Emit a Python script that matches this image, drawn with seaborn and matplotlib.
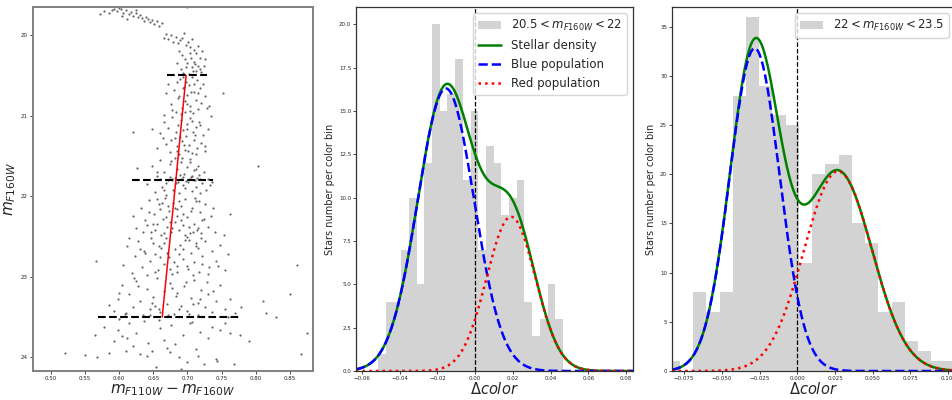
import numpy as np
import matplotlib
matplotlib.use("Agg")
import matplotlib.pyplot as plt
import seaborn as sns

# ---------------- CMD (left panel) ----------------
cmd_color = [
    # subgiant turn-off, 19.65-20.0
    0.572, 0.578, 0.585, 0.590, 0.593, 0.597, 0.600, 0.603, 0.606, 0.610,
    0.614, 0.617, 0.620, 0.624, 0.627, 0.630, 0.633, 0.636, 0.639, 0.642,
    0.645, 0.648, 0.651, 0.655, 0.658, 0.662, 0.604, 0.612, 0.625, 0.700,
    # 20.0-20.5
    0.665, 0.668, 0.672, 0.676, 0.679, 0.683, 0.686, 0.689, 0.692, 0.695,
    0.698, 0.701, 0.704, 0.707, 0.710, 0.713, 0.716, 0.719, 0.722, 0.726,
    0.688, 0.692, 0.696, 0.700, 0.703, 0.706, 0.709, 0.712, 0.715, 0.718,
    0.684, 0.690, 0.694, 0.698, 0.702, 0.705, 0.708, 0.711, 0.720, 0.724,
    # 20.5-21.0
    0.668, 0.672, 0.676, 0.680, 0.683, 0.686, 0.689, 0.692, 0.694, 0.696,
    0.698, 0.700, 0.702, 0.704, 0.706, 0.708, 0.710, 0.712, 0.714, 0.716,
    0.718, 0.720, 0.723, 0.726, 0.729, 0.732, 0.690, 0.695, 0.700, 0.705,
    0.678, 0.684, 0.688, 0.693, 0.697, 0.703, 0.709, 0.715, 0.752, 0.665,
    # 21.0-21.5
    0.655, 0.660, 0.665, 0.669, 0.672, 0.675, 0.678, 0.681, 0.684, 0.686,
    0.688, 0.690, 0.692, 0.694, 0.696, 0.698, 0.700, 0.702, 0.704, 0.706,
    0.708, 0.710, 0.712, 0.714, 0.717, 0.720, 0.723, 0.726, 0.730, 0.734,
    0.676, 0.683, 0.689, 0.695, 0.701, 0.707, 0.713, 0.719, 0.620, 0.648,
    0.664, 0.685, 0.699, 0.711, 0.725,
    # 21.5-22.0
    0.640, 0.648, 0.652, 0.656, 0.660, 0.663, 0.666, 0.669, 0.672, 0.675,
    0.677, 0.679, 0.681, 0.683, 0.685, 0.687, 0.689, 0.691, 0.693, 0.695,
    0.697, 0.699, 0.701, 0.703, 0.705, 0.707, 0.709, 0.711, 0.713, 0.715,
    0.717, 0.719, 0.721, 0.724, 0.727, 0.730, 0.733, 0.736, 0.660, 0.668,
    0.674, 0.678, 0.682, 0.686, 0.690, 0.694, 0.698, 0.702, 0.706, 0.710,
    0.714, 0.718, 0.655, 0.665, 0.676, 0.692, 0.704, 0.712, 0.626, 0.803,
    # 22.0-22.5
    0.625, 0.632, 0.638, 0.643, 0.647, 0.651, 0.655, 0.658, 0.661, 0.664,
    0.667, 0.670, 0.673, 0.676, 0.679, 0.682, 0.685, 0.688, 0.691, 0.694,
    0.697, 0.700, 0.703, 0.706, 0.709, 0.712, 0.715, 0.718, 0.722, 0.726,
    0.730, 0.735, 0.740, 0.650, 0.660, 0.669, 0.678, 0.687, 0.696, 0.705,
    0.714, 0.724, 0.644, 0.656, 0.666, 0.675, 0.684, 0.693, 0.702, 0.711,
    0.720, 0.620, 0.653, 0.672, 0.690, 0.708, 0.738, 0.762, 0.754, 0.635,
    0.641, 0.663, 0.681, 0.699, 0.717,
    # 22.5-23.0
    0.605, 0.612, 0.618, 0.623, 0.628, 0.633, 0.637, 0.641, 0.645, 0.649,
    0.653, 0.657, 0.661, 0.665, 0.669, 0.673, 0.677, 0.681, 0.685, 0.689,
    0.693, 0.697, 0.701, 0.705, 0.709, 0.713, 0.717, 0.721, 0.726, 0.731,
    0.736, 0.742, 0.748, 0.755, 0.760, 0.638, 0.652, 0.666, 0.680, 0.694,
    0.708, 0.722, 0.646, 0.660, 0.674, 0.688, 0.702, 0.716, 0.730, 0.566,
    0.630, 0.658, 0.684, 0.712, 0.745, 0.615, 0.670, 0.700, 0.720, 0.860,
    # 23.0-23.5
    0.585, 0.592, 0.598, 0.604, 0.610, 0.615, 0.620, 0.625, 0.630, 0.635,
    0.640, 0.645, 0.650, 0.655, 0.660, 0.665, 0.670, 0.675, 0.680, 0.685,
    0.690, 0.695, 0.700, 0.705, 0.710, 0.715, 0.720, 0.725, 0.730, 0.736,
    0.742, 0.748, 0.755, 0.762, 0.770, 0.778, 0.622, 0.648, 0.672, 0.698,
    0.718, 0.738, 0.608, 0.658, 0.683, 0.708, 0.850, 0.810, 0.815, 0.830,
    0.600, 0.628, 0.652, 0.678, 0.702, 0.728, 0.760, 0.645, 0.688, 0.715,
    # 23.5-24.2
    0.520, 0.550, 0.567, 0.578, 0.585, 0.592, 0.598, 0.604, 0.610, 0.615,
    0.620, 0.625, 0.630, 0.636, 0.642, 0.648, 0.654, 0.660, 0.665, 0.670,
    0.676, 0.682, 0.688, 0.694, 0.700, 0.706, 0.712, 0.718, 0.724, 0.730,
    0.736, 0.742, 0.748, 0.755, 0.762, 0.768, 0.777, 0.790, 0.867, 0.875,
    0.600, 0.612, 0.640, 0.658, 0.675, 0.690, 0.704, 0.716, 0.744, 0.564,
]
cmd_mag = [
    # subgiant turn-off, 19.65-20.0
    19.74, 19.70, 19.72, 19.69, 19.67, 19.70, 19.66, 19.68, 19.72, 19.69,
    19.74, 19.71, 19.76, 19.73, 19.78, 19.75, 19.79, 19.82, 19.77, 19.80,
    19.84, 19.81, 19.86, 19.83, 19.88, 19.85, 19.76, 19.80, 19.69, 19.65,
    # 20.0-20.5
    20.03, 19.98, 20.05, 20.00, 20.08, 20.02, 20.10, 20.06, 20.04, 19.97,
    20.12, 20.08, 20.15, 20.05, 20.18, 20.22, 20.14, 20.28, 20.20, 20.30,
    20.20, 20.25, 20.30, 20.35, 20.22, 20.40, 20.33, 20.45, 20.38, 20.42,
    20.35, 20.42, 20.47, 20.40, 20.48, 20.28, 20.44, 20.36, 20.46, 20.38,
    # 20.5-21.0
    20.72, 20.60, 20.85, 20.68, 20.95, 20.78, 20.55, 20.90, 20.65, 20.82,
    20.58, 20.74, 20.62, 20.88, 20.52, 20.97, 20.70, 20.80, 20.56, 20.92,
    20.66, 20.84, 20.60, 20.75, 20.90, 20.88, 20.98, 20.64, 20.86, 20.70,
    20.93, 20.58, 20.76, 20.52, 20.96, 20.94, 20.60, 20.72, 20.72, 20.99,
    # 21.0-21.5
    21.40, 21.22, 21.08, 21.35, 21.15, 21.45, 21.02, 21.28, 21.38, 21.12,
    21.48, 21.05, 21.32, 21.18, 21.42, 21.25, 21.10, 21.36, 21.03, 21.46,
    21.20, 21.30, 21.14, 21.40, 21.08, 21.34, 21.24, 21.44, 21.16, 21.00,
    21.30, 21.20, 21.26, 21.36, 21.44, 21.06, 21.48, 21.12, 21.20, 21.16,
    21.28, 21.44, 21.16, 21.24, 21.38,
    # 21.5-22.0
    21.85, 21.62, 21.95, 21.75, 21.55, 21.88, 21.70, 21.98, 21.80, 21.60,
    21.78, 21.92, 21.52, 21.84, 21.66, 21.96, 21.74, 21.58, 21.86, 21.72,
    21.90, 21.64, 21.82, 21.54, 21.76, 21.94, 21.68, 21.80, 21.88, 21.62,
    21.74, 21.96, 21.84, 21.70, 21.92, 21.78, 21.86, 21.82, 21.78, 21.83,
    21.76, 21.80, 21.77, 21.82, 21.79, 21.76, 21.81, 21.78, 21.75, 21.80,
    21.77, 21.79, 21.70, 21.92, 21.56, 21.52, 21.58, 21.66, 21.65, 21.63,
    # 22.0-22.5
    22.40, 22.15, 22.30, 22.05, 22.45, 22.22, 22.35, 22.10, 22.48, 22.28,
    22.02, 22.38, 22.18, 22.44, 22.08, 22.32, 22.24, 22.42, 22.12, 22.36,
    22.04, 22.26, 22.46, 22.14, 22.34, 22.06, 22.40, 22.20, 22.30, 22.10,
    22.38, 22.24, 22.45, 22.34, 22.16, 22.26, 22.40, 22.06, 22.48, 22.18,
    22.42, 22.28, 22.20, 22.04, 22.46, 22.32, 22.16, 22.22, 22.38, 22.02,
    22.46, 22.25, 22.42, 22.12, 22.30, 22.44, 22.14, 22.22, 22.48, 22.44,
    22.36, 22.08, 22.14, 22.50, 22.06,
    # 22.5-23.0
    22.85, 22.62, 22.95, 22.74, 22.55, 22.88, 22.68, 22.98, 22.80, 22.58,
    22.72, 22.92, 22.64, 22.84, 22.52, 22.76, 22.96, 22.66, 22.86, 22.60,
    22.78, 22.54, 22.90, 22.70, 22.82, 22.62, 22.94, 22.74, 22.56, 22.88,
    22.68, 22.80, 22.60, 22.92, 22.72, 22.70, 22.94, 22.58, 22.82, 22.66,
    22.98, 22.84, 22.52, 22.76, 22.90, 22.72, 22.54, 22.64, 22.96, 22.80,
    22.66, 22.62, 22.94, 22.58, 22.86, 22.52, 22.70, 22.86, 22.52, 22.85,
    # 23.0-23.5
    23.35, 23.42, 23.28, 23.10, 23.45, 23.22, 23.38, 23.05, 23.30, 23.48,
    23.15, 23.40, 23.25, 23.02, 23.44, 23.18, 23.34, 23.08, 23.46, 23.20,
    23.36, 23.12, 23.42, 23.26, 23.04, 23.48, 23.16, 23.38, 23.22, 23.44,
    23.30, 23.10, 23.40, 23.28, 23.45, 23.38, 23.02, 23.32, 23.48, 23.06,
    23.28, 23.18, 23.46, 23.40, 23.24, 23.34, 23.22, 23.30, 23.45, 23.50,
    23.20, 23.12, 23.36, 23.14, 23.46, 23.06, 23.50, 23.48, 23.40, 23.32,
    # 23.5-24.2
    23.95, 23.97, 24.00, 23.62, 23.95, 23.80, 23.66, 23.74, 23.92, 23.58,
    23.86, 23.70, 23.96, 23.55, 23.82, 23.92, 24.12, 23.64, 23.78, 23.88,
    23.60, 23.84, 24.00, 23.72, 24.06, 23.56, 23.90, 23.68, 24.08, 23.76,
    23.62, 24.02, 23.66, 23.58, 23.70, 24.08, 23.72, 23.80, 23.96, 23.70,
    23.52, 23.76, 23.98, 23.54, 23.94, 24.14, 23.58, 23.98, 24.04, 23.72,
]

# fiducial line and magnitude cuts
ridge_mag = [20.5, 21.8, 23.5]
ridge_color = [0.698, 0.683, 0.663]
cut_mag = [20.5, 21.8, 23.5]
cut_left = [0.670, 0.619, 0.569]
cut_right = [0.728, 0.738, 0.775]

# ---------------- histogram panels ----------------
hist_a_start, hist_a_width = -0.0514, 0.00408
hist_a_counts = [1, 4, 4, 7, 10, 5, 12, 20, 15, 16, 18, 11,
                 15, 7, 13, 12, 9, 10, 11, 4, 2, 3, 5, 3]
hist_a_label = r"$20.5 < m_{F160W} < 22$"
fit_a_blue = (16.3, -0.0155, 0.0149)   # amplitude, mean, sigma
fit_a_red = (8.9, 0.0190, 0.0129)

hist_b_start, hist_b_width = -0.0866, 0.00877
hist_b_counts = [1, 0, 8, 6, 8, 28, 36, 29, 26, 25, 11,
                 20, 21, 22, 15, 13, 6, 7, 3, 2, 1, 1]
hist_b_label = r"$22 < m_{F160W} < 23.5$"
fit_b_blue = (32.8, -0.0282, 0.0165)
fit_b_red = (20.3, 0.0270, 0.0225)


def gauss(x, p):
    a, mu, sig = p
    return a * np.exp(-(x - mu) ** 2 / (2 * sig ** 2))


sns.set_style("ticks")
plt.rcParams["font.family"] = ["DejaVu Sans"]

fig = plt.figure(figsize=(9.52, 4.0), dpi=100)
ax1 = fig.add_axes([33 / 952, 1 - 371 / 400, 280 / 952, 364 / 400])
ax2 = fig.add_axes([356 / 952, 1 - 371 / 400, 277 / 952, 364 / 400])
ax3 = fig.add_axes([672 / 952, 1 - 371 / 400, 283 / 952, 364 / 400])

# left: CMD
sns.scatterplot(x=cmd_color, y=cmd_mag, s=2.5, color="0.4", linewidth=0, ax=ax1)
for m, lo, hi in zip(cut_mag, cut_left, cut_right):
    ax1.plot([lo, hi], [m, m], color="black", ls="--", lw=1.5)
sns.lineplot(x=ridge_color, y=ridge_mag, color="red", lw=1.1, sort=False, ax=ax1)
ax1.set_xlim(0.4736, 0.884)
ax1.set_ylim(24.17, 19.65)
ax1.set_xticks(np.arange(0.50, 0.851, 0.05))
ax1.set_yticks([20, 21, 22, 23, 24])
ax1.set_xlabel(r"$m_{F110W} - m_{F160W}$", fontsize=11, labelpad=1)
ax1.set_ylabel(r"$m_{F160W}$", fontsize=11, labelpad=2)
for sp in ax1.spines.values():
    sp.set_color("#808080")
    sp.set_linewidth(1.4)


def hist_panel(ax, start, width, counts, label, pblue, pred, xlim, ylim):
    edges = [start + width * i for i in range(len(counts) + 1)]
    centers = [e + width / 2 for e in edges[:-1]]
    sns.histplot(x=centers, weights=counts, bins=edges, color="lightgrey",
                 alpha=1.0, linewidth=0, label=label, ax=ax)
    ax.axvline(0, color="black", ls="--", lw=0.9)
    xs = np.linspace(xlim[0], xlim[1], 400)
    g1 = gauss(xs, pblue)
    g2 = gauss(xs, pred)
    sns.lineplot(x=xs, y=g1 + g2, color="green", lw=1.8, label="Stellar density", ax=ax)
    sns.lineplot(x=xs, y=g1, color="blue", lw=1.8, ls="--", label="Blue population", ax=ax)
    sns.lineplot(x=xs, y=g2, color="red", lw=1.8, ls=":", label="Red population", ax=ax)
    ax.set_xlim(*xlim)
    ax.set_ylim(*ylim)
    ax.set_xlabel(r"$\Delta color$", fontsize=10.5, labelpad=0)
    ax.set_ylabel("Stars number per color bin", fontsize=7, labelpad=3)
    for sp in ax.spines.values():
        sp.set_color("#333333")
        sp.set_linewidth(0.9)


hist_panel(ax2, hist_a_start, hist_a_width, hist_a_counts, hist_a_label,
           fit_a_blue, fit_a_red, (-0.0632, 0.0837), (0, 21))
ax2.set_xticks(np.arange(-0.06, 0.081, 0.02))
ax2.set_yticks(np.arange(0, 20.1, 2.5))
h, l = ax2.get_legend_handles_labels()
order = [l.index(hist_a_label)] + [i for i in range(len(l)) if l[i] != hist_a_label]
ax2.legend([h[i] for i in order], [l[i] for i in order], loc="upper right",
           fontsize=8.5, borderaxespad=0.55)

hist_panel(ax3, hist_b_start, hist_b_width, hist_b_counts, hist_b_label,
           fit_b_blue, fit_b_red, (-0.083, 0.1045), (0, 37))
ax3.set_xticks(np.arange(-0.075, 0.101, 0.025))
ax3.set_yticks(np.arange(0, 36, 5))
h, l = ax3.get_legend_handles_labels()
ax3.legend([h[l.index(hist_b_label)]], [hist_b_label], loc="upper right",
           fontsize=8.5, borderaxespad=0.55)

for ax in (ax1, ax2, ax3):
    ax.tick_params(labelsize=4, length=2, width=0.6, pad=1.5)

fig.savefig("out.png", dpi=100)
